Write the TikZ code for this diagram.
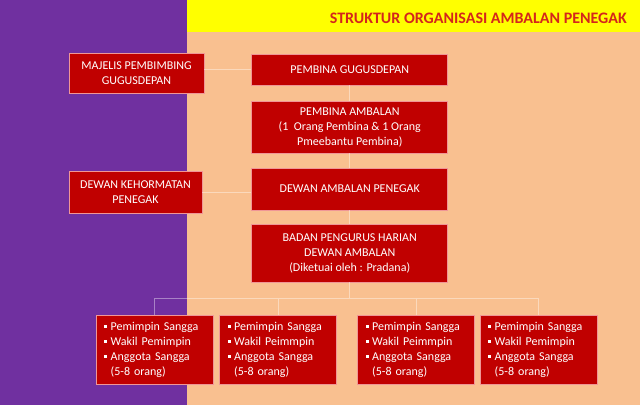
\documentclass[tikz,border=0pt]{standalone}
\usepackage{fontspec}
\setmainfont{Carlito}
\usepackage{tikz}
\usetikzlibrary{shapes,arrows,positioning}
\definecolor{ungu}{RGB}{112,48,160}
\definecolor{krem}{RGB}{249,192,144}
\definecolor{kuning}{RGB}{255,255,0}
\definecolor{merah}{RGB}{192,0,0}
\definecolor{tepi}{RGB}{240,150,150}
\definecolor{judulmerah}{RGB}{212,38,28}
\tikzstyle{kotak} = [draw=tepi,line width=0.7pt,fill=merah,text=white,align=center,inner sep=0pt,font=\fontsize{12}{15}\selectfont]
\tikzstyle{garis} = [draw=white,draw opacity=0.4,line width=1pt]
\newcommand{\butir}{\makebox[6.7pt][l]{\rule[2.5pt]{3pt}{3pt}}}
\newcommand{\isisangga}[1]{\butir Pemimpin Sangga\\ \butir Wakil #1\\ \butir Anggota Sangga\\ \hspace*{6.7pt}(5-8 orang)}

\begin{document}
\begin{tikzpicture}[
    x=1pt, y=-1pt,
    sangga/.style={kotak,minimum width=117pt,minimum height=69pt,text width=101pt,align=left}
]
\useasboundingbox (0,0) rectangle (640,405);
% 背景
\fill[ungu] (0,0) rectangle (187,405);
\fill[krem] (187,32) rectangle (640,405);
\fill[kuning] (187,0) rectangle (640,32);
\node[anchor=east,inner sep=0pt,text=judulmerah,font=\fontsize{16}{19}\selectfont\bfseries] (judul) at (627,18) {STRUKTUR ORGANISASI AMBALAN PENEGAK};

% 主干
\node[kotak,minimum width=196pt,minimum height=31pt] (pembinagd) at (349.75,69.5) {PEMBINA GUGUSDEPAN};
\node[kotak,minimum width=196pt,minimum height=52pt] (pembinaamb) at (349.75,127) {PEMBINA AMBALAN\\(1\ \ Orang Pembina \& 1 Orang\\Pmeebantu Pembina)};
\node[kotak,minimum width=196pt,minimum height=42pt] (dewanamb) at (349.75,189) {DEWAN AMBALAN PENEGAK};
\node[kotak,minimum width=196pt,minimum height=58pt] (bph) at (349.75,253) {BADAN PENGURUS HARIAN\\DEWAN AMBALAN\\(Diketuai oleh : Pradana)};

% 左侧
\node[kotak,minimum width=135pt,minimum height=40pt] (majelis) at (136.5,73) {MAJELIS PEMBIMBING\\GUGUSDEPAN};
\node[kotak,minimum width=133pt,minimum height=42pt] (kehormatan) at (135.5,192) {DEWAN KEHORMATAN\\PENEGAK};

% 四个 sangga
\node[sangga] (sangga1) at (154.5,349.5) {\isisangga{Pemimpin}};
\node[sangga] (sangga2) at (278,349.5) {\isisangga{Peimmpin}};
\node[sangga] (sangga3) at (416,349.5) {\isisangga{Peimmpin}};
\node[sangga] (sangga4) at (538.5,349.5) {\isisangga{Pemimpin}};

% 连线
\draw[garis] (pembinagd.west -| majelis.east) -- (pembinagd.west);
\draw[garis] (kehormatan.east) -- (kehormatan.east -| dewanamb.west);
\draw[garis] (pembinagd.south) -- (pembinaamb.north);
\draw[garis] (pembinaamb.south) -- (dewanamb.north);
\draw[garis] (dewanamb.south) -- (bph.north);
\draw[garis] (bph.south) -- ++(0,16) coordinate (bus)
    (sangga1.north) |- (bus) -| (sangga4.north)
    (sangga2.north) -- (sangga2.north |- bus)
    (sangga3.north) -- (sangga3.north |- bus);
\end{tikzpicture}
\end{document}
